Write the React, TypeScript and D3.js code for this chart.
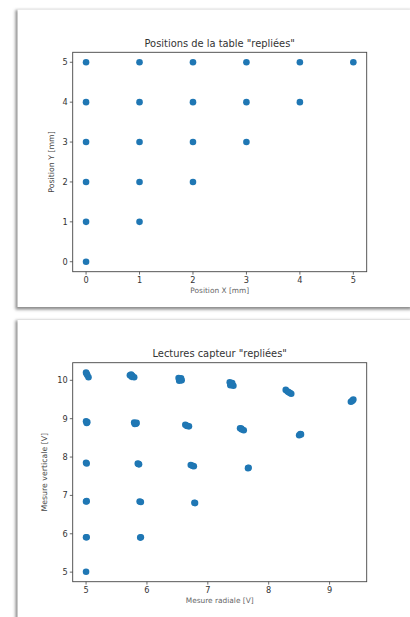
import React from "react";
import * as d3 from "d3";

// Top chart: folded table positions
const posX = [0, 0, 0, 0, 0, 0, 1, 1, 1, 1, 1, 2, 2, 2, 2, 3, 3, 3, 4, 4, 5];
const posY = [0, 1, 2, 3, 4, 5, 1, 2, 3, 4, 5, 2, 3, 4, 5, 3, 4, 5, 4, 5, 5];
const posTicksX = [0, 1, 2, 3, 4, 5];
const posTicksY = [0, 1, 2, 3, 4, 5];

// Bottom chart: folded sensor readings
const radial = [
  5.0, 5.02, 5.04, 5.01,
  5.74, 5.76, 5.79, 5.75, 5.72,
  6.52, 6.54, 6.57, 6.53, 6.56,
  7.36, 7.39, 7.42, 7.37, 7.4,
  8.28, 8.31, 8.35, 8.37, 8.33,
  9.35, 9.38, 9.39, 9.37,
  5.0, 5.01, 5.02,
  5.79, 5.82, 5.83, 5.8,
  6.63, 6.66, 6.69, 6.65,
  7.53, 7.56, 7.59, 7.55,
  8.5, 8.52, 8.53,
  5.0, 5.01,
  5.85, 5.87, 5.86,
  6.72, 6.75, 6.77,
  7.66, 7.67,
  5.0, 5.01,
  5.88, 5.9,
  6.78, 6.79,
  5.0, 5.01,
  5.9, 5.89,
  5.0,
];
const vertical = [
  10.2, 10.14, 10.08, 10.17,
  10.15, 10.12, 10.08, 10.09, 10.13,
  10.06, 10.03, 10.0, 9.99, 10.05,
  9.95, 9.9, 9.86, 9.87, 9.93,
  9.75, 9.71, 9.67, 9.65, 9.69,
  9.44, 9.48, 9.5, 9.46,
  8.93, 8.89, 8.91,
  8.9, 8.87, 8.89, 8.86,
  8.84, 8.81, 8.8, 8.82,
  8.75, 8.72, 8.7, 8.74,
  8.57, 8.6, 8.59,
  7.85, 7.83,
  7.83, 7.81, 7.82,
  7.79, 7.77, 7.76,
  7.71, 7.72,
  6.84, 6.85,
  6.84, 6.83,
  6.81, 6.8,
  5.91, 5.91,
  5.91, 5.9,
  5.01,
];
const radTicks = [5, 6, 7, 8, 9];
const vertTicks = [5, 6, 7, 8, 9, 10];

const FONT = "DejaVu Sans, sans-serif";
const DOT = "#1f77b4";

function padded(vals: number[]): [number, number] {
  const [a, b] = d3.extent(vals) as [number, number];
  const m = (b - a) * 0.05;
  return [a - m, b + m];
}

type PanelProps = {
  xs: number[];
  ys: number[];
  xTicks: number[];
  yTicks: number[];
  title: string;
  xLabel: string;
  yLabel: string;
  yLabelX: number;
  top: number;
  bottom: number;
};

function Panel({ xs, ys, xTicks, yTicks, title, xLabel, yLabel, yLabelX, top, bottom }: PanelProps) {
  const left = 72.7;
  const right = 366.7;
  const x = d3.scaleLinear().domain(padded(xs)).range([left, right]);
  const y = d3.scaleLinear().domain(padded(ys)).range([bottom, top]);
  const cx = (left + right) / 2;
  const cy = (top + bottom) / 2;
  return (
    <g>
      {xs.map((v, i) => (
        <circle key={i} cx={x(v)} cy={y(ys[i])} r={3.3} fill={DOT} />
      ))}
      <rect x={left} y={top} width={right - left} height={bottom - top} fill="none" stroke="#444" strokeWidth={0.9} />
      {xTicks.map((t) => (
        <g key={"x" + t}>
          <line x1={x(t)} x2={x(t)} y1={bottom} y2={bottom + 2.9} stroke="#444" strokeWidth={0.8} />
          <text x={x(t)} y={bottom + 11.5} fontSize={8.2} fill="#333" textAnchor="middle" fontFamily={FONT}>
            {t}
          </text>
        </g>
      ))}
      {yTicks.map((t) => (
        <g key={"y" + t}>
          <line x1={left - 2.9} x2={left} y1={y(t)} y2={y(t)} stroke="#444" strokeWidth={0.8} />
          <text x={left - 5} y={y(t)} dy="0.35em" fontSize={8.2} fill="#333" textAnchor="end" fontFamily={FONT}>
            {t}
          </text>
        </g>
      ))}
      <text x={cx} y={top - 5.5} fontSize={9.9} fill="#333" textAnchor="middle" fontFamily={FONT}>
        {title}
      </text>
      <text x={cx} y={bottom + 21.5} fontSize={7.4} fill="#666" textAnchor="middle" fontFamily={FONT}>
        {xLabel}
      </text>
      <text
        transform={`translate(${yLabelX},${cy}) rotate(-90)`}
        fontSize={7.8}
        fill="#444"
        textAnchor="middle"
        fontFamily={FONT}
      >
        {yLabel}
      </text>
    </g>
  );
}

export default function App() {
  return (
    <svg width={410} height={617} style={{ position: "absolute", left: 0, top: 0, background: "#fff" }}>
      <defs>
        <filter id="sh" x="-10%" y="-10%" width="120%" height="120%">
          <feGaussianBlur stdDeviation="1.6" />
        </filter>
      </defs>
      <rect x={0} y={0} width={410} height={617} fill="#fff" />
      <rect x={15.5} y={10} width={396} height={299.5} fill="#8a8a8a" filter="url(#sh)" />
      <rect x={17.5} y={9.5} width={394} height={297.5} fill="#fff" />
      <rect x={15.5} y={320.5} width={396} height={300} fill="#8a8a8a" filter="url(#sh)" />
      <rect x={17.5} y={320} width={394} height={300} fill="#fff" />
      <Panel
        xs={posX}
        ys={posY}
        xTicks={posTicksX}
        yTicks={posTicksY}
        title={'Positions de la table "repliées"'}
        xLabel="Position X [mm]"
        yLabel="Position Y [mm]"
        yLabelX={53.5}
        top={52.3}
        bottom={271.7}
      />
      <Panel
        xs={radial}
        ys={vertical}
        xTicks={radTicks}
        yTicks={vertTicks}
        title={'Lectures capteur "repliées"'}
        xLabel="Mesure radiale [V]"
        yLabel="Mesure verticale [V]"
        yLabelX={47}
        top={362.7}
        bottom={581.7}
      />
    </svg>
  );
}
